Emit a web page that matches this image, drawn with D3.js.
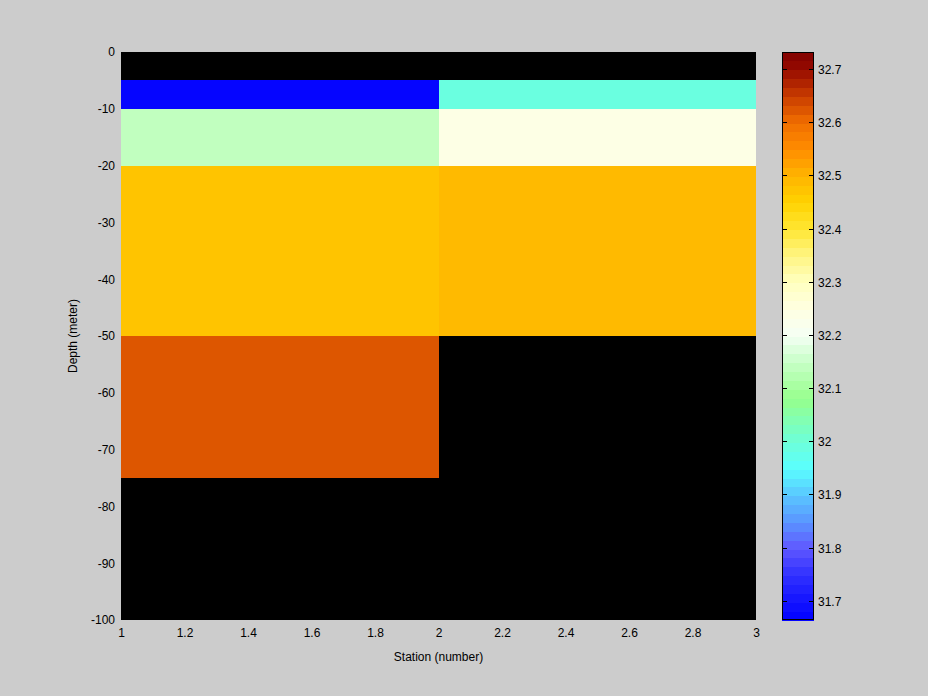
<!DOCTYPE html>
<html><head><meta charset="utf-8">
<script src="https://cdn.jsdelivr.net/npm/d3@7"></script>
<style>body{margin:0;background:#cccccc;}svg{display:block;}text{font-family:"Liberation Sans",Arial,sans-serif;font-size:12px;fill:#000;}</style>
</head><body><svg id="c" width="928" height="696"></svg>
<script>
// Data
const stationEdges = [1, 2, 3];
const depthEdges = [0, -5, -10, -20, -50, -75, -100];
// values[row] per station; null = no data (drawn black)
const salinityStation1 = [null, 31.665, 32.14, 32.47, 32.62, null];
const salinityStation2 = [null, 31.99, 32.24, 32.49, null, null];
const xTicks = [1, 1.2, 1.4, 1.6, 1.8, 2, 2.2, 2.4, 2.6, 2.8, 3];
const yTicks = [0, -10, -20, -30, -40, -50, -60, -70, -80, -90, -100];
const cbTicks = [31.7, 31.8, 31.9, 32, 32.1, 32.2, 32.3, 32.4, 32.5, 32.6, 32.7];
const cMin = 31.664, cMax = 32.732;
const cmapStops = [
  [31.664, "#0000ff"], [31.70, "#1414ff"], [31.75, "#3232ff"], [31.80, "#6058ff"],
  [31.85, "#5a96ff"], [31.90, "#5ac8ff"], [31.95, "#5affff"], [32.00, "#6effd8"],
  [32.08, "#96ff8c"], [32.15, "#c8ffc8"], [32.20, "#f5fff5"], [32.25, "#ffffe1"],
  [32.30, "#ffffbe"], [32.35, "#fff582"], [32.40, "#ffe632"], [32.45, "#ffd200"],
  [32.50, "#ffb400"], [32.55, "#ff8c00"], [32.60, "#f06e00"], [32.65, "#c83c00"],
  [32.70, "#960a00"], [32.732, "#800000"]
];

const svg = d3.select("#c");
const L = 121, R = 756, T = 52, B = 620;
const x = d3.scaleLinear().domain([1, 3]).range([L, R]);
const y = d3.scaleLinear().domain([0, -100]).range([T, B]);
const fmt = d => String(d);

const nLev = 64;
const cont = d3.scaleLinear().domain(cmapStops.map(d => d[0])).range(cmapStops.map(d => d[1])).interpolate(d3.interpolateRgb).clamp(true);
const levels = d3.range(nLev).map(i => cont(cMin + (i + 0.5) / nLev * (cMax - cMin)));
const color = v => {
  let i = Math.floor((v - cMin) / (cMax - cMin) * nLev);
  i = Math.max(0, Math.min(nLev - 1, i));
  return levels[i];
};

svg.append("rect").attr("x", L).attr("y", T).attr("width", R - L).attr("height", B - T).attr("fill", "#000");

const cols = [salinityStation1, salinityStation2];
const cells = [];
cols.forEach((col, ci) => col.forEach((v, ri) => { if (v != null) cells.push({ci, ri, v}); }));
svg.append("g").selectAll("rect").data(cells).join("rect")
  .attr("x", d => x(stationEdges[d.ci]))
  .attr("y", d => y(depthEdges[d.ri]))
  .attr("width", d => x(stationEdges[d.ci + 1]) - x(stationEdges[d.ci]))
  .attr("height", d => y(depthEdges[d.ri + 1]) - y(depthEdges[d.ri]))
  .attr("fill", d => color(d.v)).attr("shape-rendering", "crispEdges");

const xa = svg.append("g").attr("transform", `translate(0,${B})`)
  .call(d3.axisBottom(x).tickValues(xTicks).tickSize(0).tickPadding(8).tickFormat(fmt));
xa.select(".domain").remove();
const ya = svg.append("g").attr("transform", `translate(${L},0)`)
  .call(d3.axisLeft(y).tickValues(yTicks).tickSize(0).tickPadding(6).tickFormat(fmt));
ya.select(".domain").remove();
svg.selectAll(".tick text").style("font-family", "Liberation Sans, Arial, sans-serif").style("font-size", "12px").attr("fill", "#000");

svg.append("text").attr("x", (L + R) / 2).attr("y", 661).attr("text-anchor", "middle").text("Station (number)");
svg.append("text").attr("transform", `translate(77,${(T + B) / 2}) rotate(-90)`).attr("text-anchor", "middle").text("Depth (meter)");

// colorbar
const cbL = 782, cbR = 814;
const cy = d3.scaleLinear().domain([cMin, cMax]).range([B, T]);
const cb = svg.append("g");
cb.selectAll("rect").data(levels).join("rect")
  .attr("x", cbL).attr("width", cbR - cbL)
  .attr("y", (d, i) => cy(cMin + (i + 1) * (cMax - cMin) / nLev))
  .attr("height", (B - T) / nLev + 0.5)
  .attr("fill", d => d).attr("shape-rendering", "crispEdges");
cb.append("rect").attr("x", cbL + 0.5).attr("y", T + 0.5).attr("width", cbR - cbL - 1).attr("height", B - T - 1)
  .attr("fill", "none").attr("stroke", "#000").attr("stroke-width", 1);
const ct = cb.selectAll("g.ct").data(cbTicks).join("g").attr("class", "ct")
  .attr("transform", d => `translate(0,${Math.round(cy(d)) + 0.5})`);
ct.append("line").attr("x1", cbL).attr("x2", cbL + 5).attr("stroke", "#000");
ct.append("line").attr("x1", cbR - 5).attr("x2", cbR).attr("stroke", "#000");
ct.append("text").attr("x", cbR + 4).attr("dy", "0.35em").text(d => fmt(d));
</script></body></html>
